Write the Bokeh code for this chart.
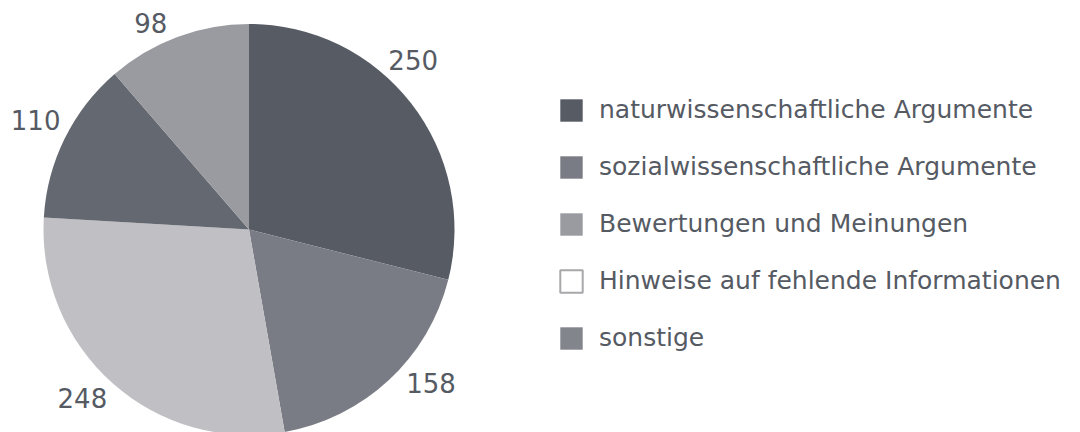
import numpy as np
from bokeh.plotting import figure
from bokeh.models import Range1d, Legend, LegendItem, ColumnDataSource
from bokeh.core.properties import value
from bokeh.embed import file_html
from bokeh.resources import INLINE

# ---- data ----
slice_values = [250, 158, 248, 110, 98]
slice_colors = ["#575b64", "#797c84", "#c0bfc4", "#646870", "#9a9ba0"]
legend_labels = [
    "naturwissenschaftliche Argumente",
    "sozialwissenschaftliche Argumente",
    "Bewertungen und Meinungen",
    "Hinweise auf fehlende Informationen",
    "sonstige",
]
legend_colors = ["#575b64", "#797c84", "#9a9ba0", "#ffffff", "#83858d"]

# ---- layout / style ----
W, H = 1080, 432
CX, CY, R = 248.5, 203.0, 205.5
label_radius = [236, 238, 237, 240, 229]
label_nudge_deg = [-8, -7, 3, 1, -5]
FONT = "DejaVu Sans"
TEXT_COLOR = "#555a63"

p = figure(width=W, height=H, output_backend="svg", toolbar_location=None,
           x_range=Range1d(0, W), y_range=Range1d(0, H),
           x_axis_location=None, y_axis_location=None, min_border=0)
p.grid.visible = False
p.outline_line_color = None
p.background_fill_color = "white"
p.border_fill_color = "white"

vals = np.array(slice_values, dtype=float)
frac = vals / vals.sum()
cum = np.cumsum(frac)
prev = cum - frac
start = np.pi / 2 - prev * 2 * np.pi
end = np.pi / 2 - cum * 2 * np.pi
src = ColumnDataSource(dict(start=start, end=end, color=slice_colors))
p.wedge(x=CX, y=CY, radius=R, start_angle="start", end_angle="end",
        direction="clock", fill_color="color", line_color=None, source=src)

mid = (prev + frac / 2) * 2 * np.pi + np.radians(label_nudge_deg)
lr = np.array(label_radius, dtype=float)
lx = CX + lr * np.sin(mid)
ly = CY + lr * np.cos(mid)
p.text(x=lx, y=ly, text=[str(v) for v in slice_values],
       text_align="center", text_baseline="middle",
       text_font=value(FONT), text_font_size="26px", text_color=TEXT_COLOR)

items = []
for lab, col in zip(legend_labels, legend_colors):
    lc = "#a8a8ab" if col == "#ffffff" else None
    r = p.quad(left=[np.nan], right=[np.nan], top=[np.nan], bottom=[np.nan],
               fill_color=col, line_color=lc, line_width=2)
    items.append(LegendItem(label=lab, renderers=[r]))

legend = Legend(items=items, location=(557, 80), orientation="vertical",
                glyph_width=28, glyph_height=28, label_height=28,
                spacing=28, padding=0, margin=0, label_standoff=14,
                border_line_color=None, background_fill_alpha=0,
                label_text_font=FONT, label_text_font_size="25px",
                label_text_color=TEXT_COLOR, label_text_baseline="middle")
p.add_layout(legend)

open("out.html", "w").write(file_html(p, INLINE))
